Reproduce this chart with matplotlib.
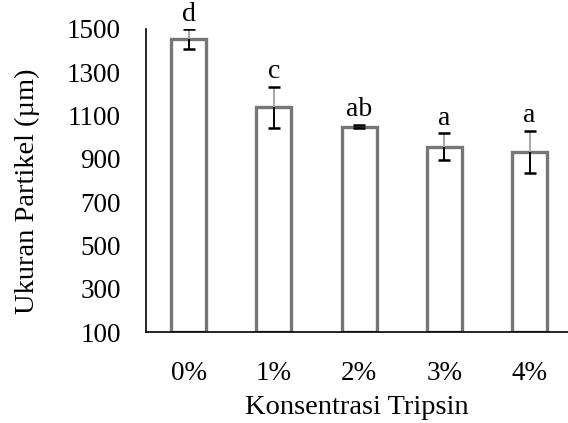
import numpy as np
import matplotlib.pyplot as plt

plt.rcParams['font.family'] = ['Liberation Serif', 'DejaVu Serif']

# data
konsentrasi = ['0%', '1%', '2%', '3%', '4%']
ukuran = [1452, 1137, 1048, 955, 933]
sd = [45, 95, 8, 62, 97]
notasi = ['d', 'c', 'ab', 'a', 'a']
yticks = [100, 300, 500, 700, 900, 1100, 1300, 1500]

fig = plt.figure(figsize=(5.68, 4.23), dpi=100)
ax = fig.add_axes([0.257, 0.215, 0.743, 0.717])

x = np.arange(len(konsentrasi))
ax.bar(x, np.array(ukuran) - 100, bottom=100, width=0.41,
       facecolor='white', edgecolor='#767676', linewidth=2.4, zorder=2)

# error bars: stem above bar is grey, inside bar black
up = np.array(ukuran) + np.array(sd)
lo = np.array(ukuran) - np.array(sd)
ax.vlines(x, ukuran, up, color='#a6a6a6', linewidth=1.4, zorder=3)
ax.vlines(x, lo, ukuran, color='black', linewidth=1.4, zorder=3)
ax.hlines(up, x - 0.07, x + 0.07, color='black', linewidth=1.8, zorder=3)
ax.hlines(lo, x - 0.07, x + 0.07, color='black', linewidth=1.8, zorder=3)

for xi, top, lab in zip(x, up, notasi):
    ax.annotate(lab, (xi, top), xytext=(0, 2), textcoords='offset points',
                ha='center', va='bottom', fontsize=20)

ax.set_ylim(100, 1500)
ax.set_xlim(-0.5, 4.45)
ax.set_yticks(yticks)
ax.set_xticks(x)
ax.set_xticklabels(konsentrasi)
ax.tick_params(axis='both', length=0, labelsize=19.5)
ax.tick_params(axis='y', pad=18)
ax.tick_params(axis='x', pad=21)

for s in ['top', 'right']:
    ax.spines[s].set_visible(False)
for s in ['left', 'bottom']:
    ax.spines[s].set_linewidth(1.2)

ax.set_ylabel('Ukuran Partikel (µm)', fontsize=20.5)
ax.yaxis.set_label_coords(-0.252, 0.465)
ax.set_xlabel('Konsentrasi Tripsin', fontsize=20.5, labelpad=6)

fig.savefig('out.png', dpi=100)
